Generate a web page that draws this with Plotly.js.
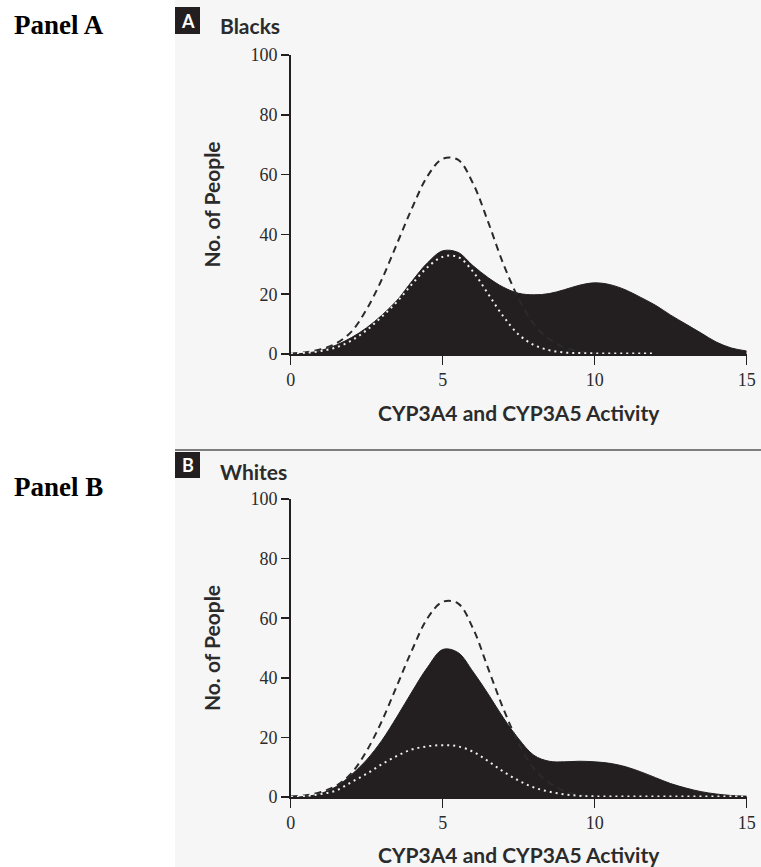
<!DOCTYPE html>
<html>
<head>
<meta charset="utf-8">
<script src="https://cdn.plot.ly/plotly-3.0.1.min.js"></script>
<style>html,body{margin:0;padding:0;background:#fff;}#chart{width:761px;height:867px;}</style>
</head>
<body>
<div id="chart"></div>
<script>
// Activity values (x) shared by all curves
const activity = [0,0.5,1,1.5,2,2.5,3,3.5,4,4.5,5,5.5,6,6.5,7,7.5,8,8.5,9,9.5,10,10.5,11,11.5,12,12.5,13,13.5,14,14.5,15];

// Panel A – Blacks
const blacksTotal = [0,0.3,1.2,3,5.5,8.8,13,18,24.5,30.5,34.5,34,29.5,25.5,22.3,20.3,19.8,20.2,21.5,23,23.8,23.2,21.5,19,16.3,13,10,7,4,2,1];
const blacksDashed = [0.2,0.6,1.6,3.6,7.5,15,25,37,49,59.5,65.3,65,57,44,30,18.5,10,5,2.2,0.9,0.3];
const blacksDotted = [0.2,0.4,1,2.2,4.5,8,12.5,17.5,23.5,29,32.5,32.5,27.5,20,12.5,6.5,3,1.3,0.5,0.3,0.2,0.2,0.2,0.2,0.2];

// Panel B – Whites
const whitesTotal = [0,0.2,1.2,3.5,7.5,12.5,19,27,35.5,43.5,49.5,48.5,42,34.5,26.5,19.5,14,12,11.8,12,11.8,11.3,10.2,8.5,6.5,4.5,3,1.8,1,0.5,0.3];
const whitesDashed = [0.2,0.6,1.7,3.8,8,15.5,25.5,37.5,49.5,60,65.5,65,56.5,43,29.5,18,9.5,4.8,2,0.8,0.3];
const whitesDotted = [0,0.3,1,2.2,5,7.8,11,13.8,16,17,17.4,17,15.2,12,8.5,5.5,3.2,1.8,0.9,0.4,0.2,0.2,0.2,0.2,0.2,0.2,0.2,0.2,0.2,0.2,0.2];

const xTicks = [0,5,10,15];
const yTicks = [0,20,40,60,80,100];
const panelNames = ["Panel A","Panel B"];
const panelLetters = ["A","B"];
const groupNames = ["Blacks","Whites"];
const xTitle = "CYP3A4 and CYP3A5 Activity";
const yTitle = "No. of People";

const W = 761, H = 867;
const px = v => v / W;
const py = v => 1 - v / H;
const ink = "#231f20";

function traces(total, dashed, dotted, xa, ya) {
  return [
    {x: activity.slice(0,total.length), y: total, xaxis: xa, yaxis: ya, type: "scatter", mode: "lines",
     line: {color: ink, width: 1, shape: "spline", smoothing: 1}, fill: "tozeroy", fillcolor: ink, hoverinfo: "skip"},
    {x: activity.slice(0,dashed.length), y: dashed, xaxis: xa, yaxis: ya, type: "scatter", mode: "lines",
     line: {color: "#2a2a2a", width: 2, dash: "7px,5px", shape: "spline", smoothing: 1}, hoverinfo: "skip"},
    {x: activity.slice(0,dotted.length), y: dotted, xaxis: xa, yaxis: ya, type: "scatter", mode: "lines",
     line: {color: "#eeeeee", width: 2, dash: "2px,4px", shape: "spline", smoothing: 1}, hoverinfo: "skip"}
  ];
}

const data = [].concat(
  traces(blacksTotal, blacksDashed, blacksDotted, "x", "y"),
  traces(whitesTotal, whitesDashed, whitesDotted, "x2", "y2")
);

const tickFont = {family: "Liberation Serif", size: 18, color: "#2b2b2b"};
const titleFont = {family: "Lato", size: 21, color: "#2b2b2b", weight: 700};

function xAxis(anchor) {
  return {domain: [px(290.7), px(746.7)], anchor: anchor, range: [0,15], tickvals: xTicks,
    showline: true, linecolor: ink, linewidth: 1.5, ticks: "outside", ticklen: 9, tickwidth: 1.5, tickcolor: ink,
    showgrid: false, zeroline: false, tickfont: tickFont, automargin: false,
    title: {text: xTitle, font: titleFont, standoff: 17}};
}
function yAxis(anchor, dom) {
  return {domain: dom, anchor: anchor, range: [0,100], tickvals: yTicks,
    showline: true, linecolor: ink, linewidth: 1.5, ticks: "outside", ticklen: 8, tickwidth: 1.5, tickcolor: ink,
    showgrid: false, zeroline: false, tickfont: tickFont, automargin: false,
    title: {text: yTitle, font: titleFont, standoff: 24}};
}

const shapes = [
  {type: "rect", xref: "paper", yref: "paper", x0: px(175), x1: 1, y0: 0, y1: 1, fillcolor: "#f6f6f6", line: {width: 0}, layer: "below"},
  {type: "line", xref: "paper", yref: "paper", x0: px(175), x1: 1, y0: py(450), y1: py(450), line: {color: "#555555", width: 1.5}},
  {type: "rect", xref: "paper", yref: "paper", x0: px(175), x1: px(200), y0: py(34), y1: py(7), fillcolor: ink, line: {width: 0}},
  {type: "rect", xref: "paper", yref: "paper", x0: px(175), x1: px(200), y0: py(478), y1: py(452), fillcolor: ink, line: {width: 0}}
];

const panelY = [25, 487];
const letterY = [21, 465];
const groupY = [25, 471];
const annotations = [];
for (let i = 0; i < 2; i++) {
  annotations.push({text: "<b>" + panelNames[i] + "</b>", xref: "paper", yref: "paper", x: px(12), y: py(panelY[i]),
    xanchor: "left", yanchor: "middle", showarrow: false, font: {family: "Liberation Serif", size: 27, color: "#000"}});
  annotations.push({text: "<b>" + panelLetters[i] + "</b>", xref: "paper", yref: "paper", x: px(187.5), y: py(letterY[i]),
    xanchor: "center", yanchor: "middle", showarrow: false, font: {family: "Lato", size: 18, color: "#fff"}});
  annotations.push({text: "<b>" + groupNames[i] + "</b>", xref: "paper", yref: "paper", x: px(218), y: py(groupY[i]),
    xanchor: "left", yanchor: "middle", showarrow: false, font: {family: "Lato", size: 21, color: "#2b2b2b"}});
}

const layout = {
  width: W, height: H, margin: {l: 0, r: 0, t: 0, b: 0},
  paper_bgcolor: "#ffffff", plot_bgcolor: "rgba(0,0,0,0)",
  showlegend: false,
  xaxis: xAxis("y"),
  yaxis: yAxis("x", [py(354), py(55)]),
  xaxis2: xAxis("y2"),
  yaxis2: yAxis("x2", [py(797), py(499)]),
  shapes: shapes,
  annotations: annotations
};

Plotly.newPlot("chart", data, layout, {staticPlot: true, displayModeBar: false});
</script>
</body>
</html>
